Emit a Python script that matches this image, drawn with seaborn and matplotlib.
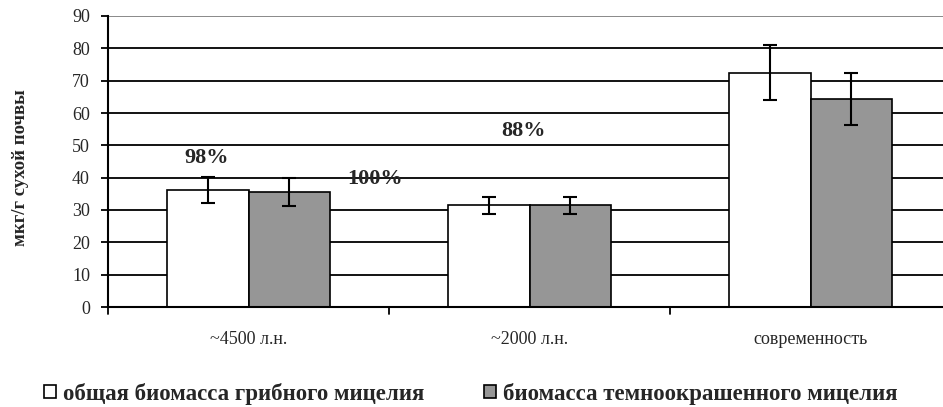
import matplotlib
matplotlib.use("Agg")
import matplotlib.pyplot as plt
from matplotlib.patches import Patch
import seaborn as sns
import pandas as pd

# Data
periods = ["~4500 л.н.", "~2000 л.н.", "современность"]
series_names = ["общая биомасса грибного мицелия", "биомасса темноокрашенного мицелия"]
total_biomass = [36.2, 31.4, 72.5]
total_err = [4.0, 2.5, 8.6]
dark_biomass = [35.6, 31.4, 64.3]
dark_err = [4.3, 2.5, 8.0]
share_labels = ["98%", "100%", "88%"]
share_label_pos = [(-0.15, 46.0), (0.45, 39.5), (0.98, 54.3)]
y_ticks = list(range(0, 100, 10))
y_label = "мкг/г сухой почвы"

bar_colors = ["#ffffff", "#969696"]

df = pd.DataFrame({
    "period": periods * 2,
    "series": [series_names[0]] * 3 + [series_names[1]] * 3,
    "value": total_biomass + dark_biomass,
})
errors = total_err + dark_err

sns.set_theme(style="white")
plt.rcParams["font.family"] = ["Liberation Serif", "DejaVu Serif"]

fig = plt.figure(figsize=(9.43, 4.07), dpi=100)
ax = fig.add_axes([108 / 943, 1 - 307 / 407, 835 / 943, 291 / 407])

sns.barplot(data=df, x="period", y="value", hue="series", order=periods,
            hue_order=series_names, palette=bar_colors, width=0.58,
            edgecolor="black", linewidth=1.2, errorbar=None, legend=False,
            saturation=1, ax=ax, zorder=2)

# error bars at the bar centres
bars = list(ax.patches)[:6]
for bar, val, err in zip(bars, df["value"], errors):
    cx = bar.get_x() + bar.get_width() / 2
    ax.errorbar(cx, val, yerr=err, color="black", capsize=4.8, capthick=1.5,
                elinewidth=1.5, zorder=3)

# horizontal grid behind the bars
for yv in y_ticks[1:]:
    ax.axhline(yv, color="#808080" if yv == 90 else "black", linewidth=1.3,
               zorder=1)

ax.set_ylim(0, 90)
ax.set_xlim(-0.5, -0.5 + 835 / 281)
ax.set_yticks(y_ticks)
ax.set_yticklabels([str(t) for t in y_ticks], fontsize=13)
ax.set_xticks(range(len(periods)))
ax.set_xticklabels(periods, fontsize=13)
ax.tick_params(axis="x", length=0, pad=17)
ax.tick_params(axis="y", direction="out", length=5, width=1.3, color="black",
               left=True, pad=8)
for xb in [-0.5, 0.5, 1.5]:
    ax.plot([xb, xb], [0, -2.2], color="black", linewidth=1.3, clip_on=False,
            zorder=4)

for side in ["top", "right"]:
    ax.spines[side].set_visible(False)
ax.spines["left"].set_color("black")
ax.spines["left"].set_linewidth(1.5)
ax.spines["bottom"].set_color("black")
ax.spines["bottom"].set_linewidth(1.5)
ax.set_xlabel("")
ax.set_ylabel(y_label, fontsize=13.5, fontweight="bold")
ax.yaxis.set_label_coords(-0.095, 0.48)

for txt, (px, py) in zip(share_labels, share_label_pos):
    ax.text(px, py, txt, fontsize=16, fontweight="bold", ha="center",
            va="center", zorder=5)

# one legend entry per series, each anchored at its own left edge
legend_x = [44 / 943, 484 / 943]
for color, name, lx in zip(bar_colors, series_names, legend_x):
    fig.legend([Patch(facecolor=color, edgecolor="black", linewidth=1.2)],
               [name], loc="center left", bbox_to_anchor=(lx, 0.033),
               frameon=False, borderpad=0, borderaxespad=0,
               handlelength=0.53, handleheight=0.53, handletextpad=0.28,
               prop={"family": "Liberation Serif", "weight": "bold",
                     "size": 16.5})

fig.savefig("out.png", dpi=100)
